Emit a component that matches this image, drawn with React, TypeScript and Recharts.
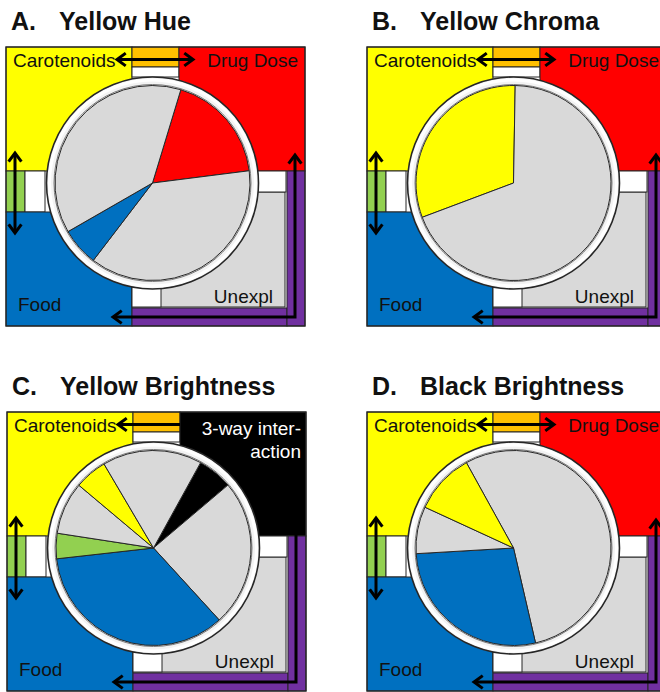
import React from "react";
import { PieChart, Pie, Cell } from "recharts";

// ---------- data ----------
const hueCategories = ["Drug Dose", "Unexpl", "Food", "Other"];
const hueValues = [18.3, 37.4, 6.3, 38.0];

const chromaCategories = ["Carotenoids", "Unexpl"];
const chromaValues = [31.0, 69.0];

const yBrightCategories = ["3-way interaction", "Unexpl", "Food", "Carotenoids x Food", "Other", "Carotenoids", "Other 2"];
const yBrightValues = [5.8, 24.4, 35.0, 4.2, 8.7, 5.4, 16.5];

const bBrightCategories = ["Unexpl", "Food", "Other", "Carotenoids"];
const bBrightValues = [54.4, 27.7, 7.8, 10.1];

const panelLetters = ["A.", "B.", "C.", "D."];
const panelTitles = ["Yellow Hue", "Yellow Chroma", "Yellow Brightness", "Black Brightness"];

// ---------- styles ----------
const YELLOW = "#FFFF00";
const RED = "#FF0000";
const BLUE = "#0070C0";
const GREEN = "#92D050";
const ORANGE = "#FFC000";
const PURPLE = "#7030A0";
const GRAY = "#D9D9D9";
const BLACK = "#000000";
const LINE = "#262626";

const colorOf: Record<string, string> = {
  "Drug Dose": RED,
  Carotenoids: YELLOW,
  Food: BLUE,
  "Carotenoids x Food": GREEN,
  "3-way interaction": BLACK,
  Unexpl: GRAY,
  Other: GRAY,
  "Other 2": GRAY,
};

const FONT = "'Liberation Sans', Arial, Helvetica, sans-serif";
const LABEL_SIZE = 19;
const TITLE_SIZE = 25;
const BX = 6;
const BY = 47;
const CX = 152.5;
const CY = 183;

function chevron(x: number, y: number, dir: "l" | "r" | "u" | "d") {
  const L = 7.5;
  const W = 5.5;
  let pts = "";
  if (dir === "l") pts = `${x + L},${y - W} ${x},${y} ${x + L},${y + W}`;
  if (dir === "r") pts = `${x - L},${y - W} ${x},${y} ${x - L},${y + W}`;
  if (dir === "u") pts = `${x - W},${y + L} ${x},${y} ${x + W},${y + L}`;
  if (dir === "d") pts = `${x - W},${y - L} ${x},${y} ${x + W},${y - L}`;
  return (
    <polyline points={pts} fill="none" stroke={BLACK} strokeWidth={3} strokeLinejoin="miter" strokeLinecap="square" />
  );
}

function Board({ interaction, letter, title }: { interaction: boolean; letter: string; title: string }) {
  const rs = { stroke: LINE, strokeWidth: 1 };
  return (
    <svg width={330} height={365} style={{ position: "absolute", left: 0, top: 0 }}>
      <text x={11} y={30} fontFamily={FONT} fontWeight="bold" fontSize={TITLE_SIZE} fill="#111">
        {letter}
      </text>
      <text x={59} y={30} fontFamily={FONT} fontWeight="bold" fontSize={TITLE_SIZE} fill="#111">
        {title}
      </text>
      <g transform={`translate(${BX},${BY})`}>
        <rect x={0} y={0} width={299} height={279} fill="#fff" />
        <rect x={0} y={0} width={126} height={124} fill={YELLOW} {...rs} />
        <rect x={126} y={0} width={47} height={20} fill={ORANGE} {...rs} />
        <rect x={126} y={20} width={47} height={10} fill="#fff" {...rs} />
        <rect x={173} y={0} width={126} height={124} fill={interaction ? BLACK : RED} {...rs} />
        <rect x={0} y={124} width={19} height={41} fill={GREEN} {...rs} />
        <rect x={19} y={124} width={20} height={41} fill="#fff" {...rs} />
        <rect x={0} y={165} width={126} height={114} fill={BLUE} {...rs} />
        <rect x={126} y={145} width={153} height={115} fill={GRAY} {...rs} />
        <rect x={251} y={124} width={29} height={21} fill="#fff" {...rs} />
        <rect x={126} y={240} width={29} height={20} fill="#fff" {...rs} />
        <rect x={126} y={261} width={155} height={18} fill={PURPLE} {...rs} />
        <rect x={281} y={124} width={18} height={155} fill={PURPLE} {...rs} />
        <rect x={0} y={0} width={299} height={279} fill="none" stroke={LINE} strokeWidth={1.2} />

        <text x={7} y={20} fontFamily={FONT} fontSize={LABEL_SIZE} fill="#111">Carotenoids</text>
        {interaction ? (
          <>
            <text x={294} y={23} textAnchor="end" fontFamily={FONT} fontSize={LABEL_SIZE} fill="#fff">3-way inter-</text>
            <text x={294} y={46} textAnchor="end" fontFamily={FONT} fontSize={LABEL_SIZE} fill="#fff">action</text>
          </>
        ) : (
          <text x={292} y={20} textAnchor="end" fontFamily={FONT} fontSize={LABEL_SIZE} fill="#111">Drug Dose</text>
        )}
        <text x={12} y={264} fontFamily={FONT} fontSize={LABEL_SIZE} fill="#111">Food</text>
        <text x={267} y={256} textAnchor="end" fontFamily={FONT} fontSize={LABEL_SIZE} fill="#111">Unexpl</text>

        {/* carotenoid x drug arrow */}
        <line x1={111} y1={12.5} x2={interaction ? 173 : 187} y2={12.5} stroke={BLACK} strokeWidth={3} />
        {chevron(111, 12.5, "l")}
        {!interaction && chevron(187, 12.5, "r")}
        {/* carotenoid x food arrow */}
        <line x1={9} y1={106} x2={9} y2={186} stroke={BLACK} strokeWidth={3} />
        {chevron(9, 106, "u")}
        {chevron(9, 186, "d")}
        {/* drug x food arrow */}
        <path d="M289,108 V270 H107" fill="none" stroke={BLACK} strokeWidth={3} />
        {chevron(289, 108, "u")}
        {chevron(107, 270, "l")}
      </g>
      {/* ring around the pie */}
      <circle cx={CX} cy={CY} r={106} fill="#f3f3f3" stroke={LINE} strokeWidth={1.6} />
      <circle cx={CX} cy={CY} r={103} fill="none" stroke="#ffffff" strokeWidth={3} />
      <circle cx={CX} cy={CY} r={98.5} fill="#fff" stroke="#7a7a7a" strokeWidth={1} />
    </svg>
  );
}

function Panel({
  left,
  top,
  idx,
  categories,
  values,
  startAngle,
  interaction,
}: {
  left: number;
  top: number;
  idx: number;
  categories: string[];
  values: number[];
  startAngle: number;
  interaction: boolean;
}) {
  const data = categories.map((c, i) => ({ name: c, value: values[i] }));
  return (
    <div style={{ position: "absolute", left, top, width: 330, height: 365 }}>
      <Board interaction={interaction} letter={panelLetters[idx]} title={panelTitles[idx]} />
      <div style={{ position: "absolute", left: 0, top: 0 }}>
        <PieChart width={330} height={365} margin={{ top: 0, right: 0, bottom: 0, left: 0 }}>
          <Pie
            data={data}
            dataKey="value"
            nameKey="name"
            cx={CX}
            cy={CY}
            outerRadius={97.5}
            innerRadius={0}
            startAngle={startAngle}
            endAngle={startAngle - 360}
            stroke={LINE}
            strokeWidth={1}
            isAnimationActive={false}
            label={false}
            labelLine={false}
          >
            {data.map((d, i) => (
              <Cell key={i} fill={colorOf[d.name]} />
            ))}
          </Pie>
        </PieChart>
      </div>
    </div>
  );
}

export default function App() {
  return (
    <div
      style={{
        position: "fixed",
        left: 0,
        top: 0,
        width: 660,
        height: 692,
        overflow: "hidden",
        background: "#fff",
      }}
    >
      <Panel left={0} top={0} idx={0} categories={hueCategories} values={hueValues} startAngle={73.1} interaction={false} />
      <Panel left={361} top={0} idx={1} categories={chromaCategories} values={chromaValues} startAngle={200.6} interaction={false} />
      <Panel left={1} top={365} idx={2} categories={yBrightCategories} values={yBrightValues} startAngle={61.1} interaction={true} />
      <Panel left={361} top={365} idx={3} categories={bBrightCategories} values={bBrightValues} startAngle={118.9} interaction={false} />
    </div>
  );
}
